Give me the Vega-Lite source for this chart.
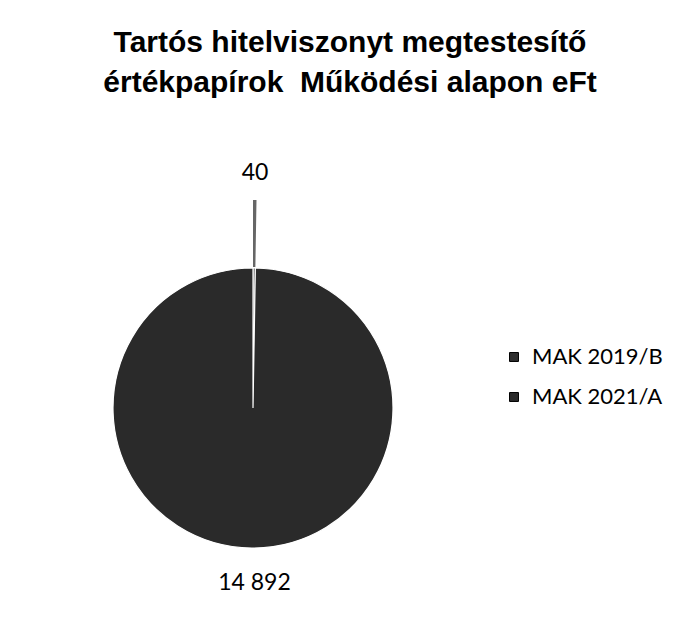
{
  "$schema": "https://vega.github.io/schema/vega-lite/v6.json",
  "autosize": {"type": "none"},
  "width": 480,
  "height": 472,
  "padding": {"left": 13, "top": 172, "right": 186, "bottom": 0},
  "background": "white",
  "config": {"view": {"stroke": null}},
  "title": {
    "text": ["Tartós hitelviszonyt megtestesítő", "értékpapírok \u00a0Működési alapon eFt"],
    "font": "Liberation Sans",
    "fontSize": 30,
    "fontWeight": "bold",
    "color": "#000000",
    "lineHeight": 40,
    "anchor": "middle",
    "dx": 97,
    "offset": 64
  },
  "data": {
    "values": [
      {"k": "MAK 2019/B", "v": 40, "lbl": "40"},
      {"k": "MAK 2021/A", "v": 14892, "lbl": "14 892"}
    ]
  },
  "layer": [
    {
      "mark": {"type": "arc", "radius": 140, "stroke": "white", "strokeWidth": 1.2},
      "encoding": {
        "theta": {"field": "v", "type": "quantitative", "stack": true},
        "color": {
          "field": "k",
          "type": "nominal",
          "scale": {"domain": ["MAK 2019/B", "MAK 2021/A"], "range": ["#2e2e2e", "#2a2a2a"]},
          "legend": {
            "title": null,
            "orient": "none",
            "legendX": 490,
            "legendY": 174,
            "symbolType": "square",
            "symbolSize": 80,
            "symbolStrokeColor": "#000000",
            "symbolStrokeWidth": 1,
            "labelFont": "Lato",
            "labelFontSize": 22,
            "labelColor": "#000000",
            "labelOffset": 7,
            "rowPadding": 18
          }
        }
      }
    },
    {
      "transform": [{"filter": "datum.k == 'MAK 2019/B'"}],
      "mark": {"type": "arc", "radius": 141, "radius2": 208, "fill": "#000000", "opacity": 0.6},
      "encoding": {
        "theta": {"field": "v", "type": "quantitative", "stack": true, "scale": {"domain": [0, 14932]}}
      }
    },
    {
      "mark": {"type": "text", "font": "Lato", "fontSize": 23, "color": "#000000"},
      "encoding": {
        "theta": {"field": "v", "type": "quantitative", "stack": true},
        "detail": {"field": "k", "type": "nominal"},
        "radius": {"field": "k", "type": "nominal", "scale": {"domain": ["MAK 2019/B", "MAK 2021/A"], "range": [235, 175]}},
        "text": {"field": "lbl"}
      }
    }
  ]
}
